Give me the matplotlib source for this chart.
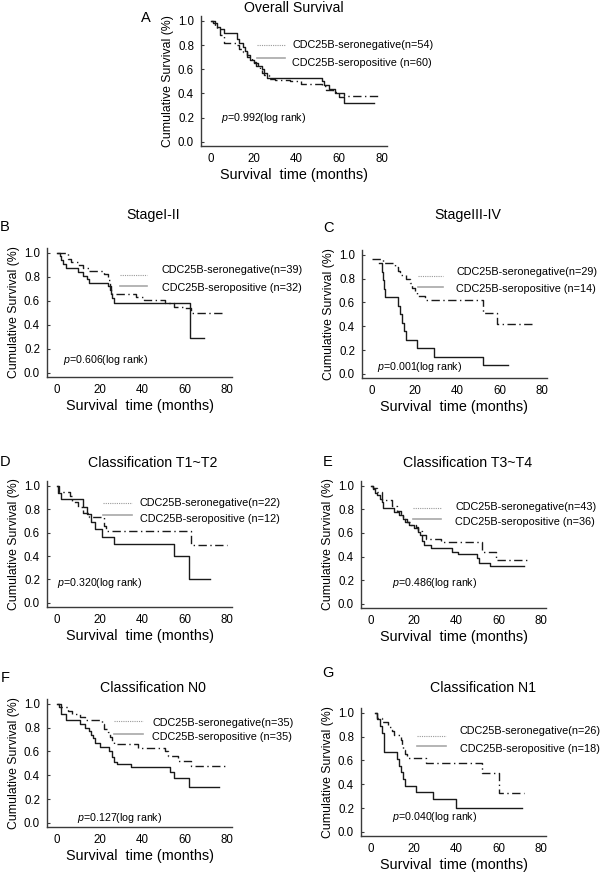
import matplotlib
matplotlib.use("Agg")
import matplotlib.pyplot as plt

plt.rcParams["font.family"] = ["Liberation Sans", "DejaVu Sans"]
plt.rcParams["mathtext.fontset"] = "custom"
plt.rcParams["mathtext.it"] = "Liberation Sans:italic"
plt.rcParams["mathtext.rm"] = "Liberation Sans"

# ---------- data -----------------------------------------------------------
panel_letters = ["A", "B", "C", "D", "E", "F", "G"]
panel_titles = ["Overall Survival", "StageI-II", "StageIII-IV",
                "Classification T1~T2", "Classification T3~T4",
                "Classification N0", "Classification N1"]
n_negative = [54, 39, 29, 22, 43, 35, 26]
n_positive = [60, 32, 14, 12, 36, 35, 18]
p_values = ["0.992", "0.606", "0.001", "0.320", "0.486", "0.127", "0.040"]

# seropositive (solid) step curves
pos_t = [
    [0, 1, 3, 4, 6, 12, 13, 15, 16, 17, 18, 20, 22, 24, 25, 26, 52, 53, 55, 58, 60, 62, 76],
    [0, 1.5, 2, 3, 4, 10, 12, 14, 15, 24, 25, 25.5, 26, 27, 62.5, 69],
    [3.5, 4.5, 5, 5.5, 6, 12, 13, 14, 15, 16, 21, 29, 52, 64],
    [0, 0.5, 2, 12, 14, 16, 18, 21, 27, 55, 62, 72],
    [0, 1, 2, 3, 4, 5, 5.5, 11, 13, 15, 16, 18, 20, 22, 23, 24, 25, 28, 38, 41, 50, 51, 56, 72],
    [0, 1, 2, 4, 11, 13, 15, 16, 17, 18, 20, 24.5, 26, 27, 28, 35, 53, 55, 62, 76],
    [2, 3, 4, 5, 6, 12, 13, 14, 15, 16, 21, 29, 40, 71],
]
pos_s = [
    [1.0, 0.98, 0.95, 0.93, 0.90, 0.85, 0.82, 0.78, 0.75, 0.72, 0.68, 0.65, 0.63, 0.60, 0.57, 0.53, 0.50, 0.47, 0.44, 0.40, 0.37, 0.32, 0.32],
    [1.0, 0.97, 0.94, 0.91, 0.87, 0.84, 0.81, 0.78, 0.75, 0.72, 0.69, 0.66, 0.62, 0.58, 0.29, 0.29],
    [0.929, 0.857, 0.786, 0.714, 0.643, 0.571, 0.50, 0.429, 0.357, 0.286, 0.214, 0.143, 0.071, 0.071],
    [1.0, 0.94, 0.89, 0.82, 0.76, 0.69, 0.63, 0.56, 0.50, 0.40, 0.20, 0.20],
    [1.0, 0.97, 0.94, 0.92, 0.89, 0.86, 0.81, 0.78, 0.75, 0.72, 0.69, 0.67, 0.64, 0.61, 0.58, 0.53, 0.50, 0.47, 0.44, 0.42, 0.39, 0.35, 0.32, 0.32],
    [1.0, 0.97, 0.91, 0.86, 0.83, 0.80, 0.77, 0.74, 0.71, 0.67, 0.64, 0.60, 0.55, 0.51, 0.49, 0.47, 0.43, 0.38, 0.30, 0.30],
    [1.0, 0.944, 0.889, 0.833, 0.667, 0.611, 0.556, 0.50, 0.444, 0.389, 0.333, 0.278, 0.20, 0.20],
]

# seronegative (dash-dot) step curves
neg_t = [
    [0, 2, 3, 4, 6, 12, 13, 15, 17, 19, 21, 23, 24, 25, 27, 30, 37, 42, 52, 54, 57, 60, 62, 79],
    [0, 5, 6.5, 10, 12, 15, 22, 24, 25, 25.5, 26, 37, 41, 51, 55, 60, 63, 79],
    [0, 5, 11, 12, 13, 16, 18, 19, 20, 21, 25, 52, 59, 76],
    [0, 1, 6, 7, 10, 12, 15, 22, 23, 63, 80],
    [0, 1, 3, 5, 10, 12, 14, 15, 17, 19, 21, 22, 24, 26, 33, 52, 59, 75],
    [0, 2, 5, 7, 11, 13, 21, 22, 24, 25, 26, 27, 38, 51, 52, 57, 63, 80],
    [2, 3, 5, 8, 10, 11, 14, 14.5, 15, 16, 17, 26, 52, 60, 72],
]
neg_s = [
    [1.0, 0.96, 0.93, 0.88, 0.82, 0.80, 0.77, 0.74, 0.70, 0.66, 0.63, 0.60, 0.57, 0.55, 0.52, 0.51, 0.50, 0.48, 0.46, 0.43, 0.41, 0.40, 0.38, 0.38],
    [1.0, 0.95, 0.92, 0.90, 0.87, 0.85, 0.82, 0.77, 0.72, 0.69, 0.66, 0.63, 0.61, 0.58, 0.55, 0.54, 0.50, 0.50],
    [0.966, 0.931, 0.897, 0.862, 0.828, 0.793, 0.759, 0.724, 0.690, 0.655, 0.62, 0.51, 0.42, 0.42],
    [1.0, 0.95, 0.91, 0.86, 0.82, 0.77, 0.73, 0.66, 0.61, 0.49, 0.49],
    [1.0, 0.98, 0.95, 0.88, 0.83, 0.79, 0.76, 0.72, 0.69, 0.67, 0.65, 0.62, 0.58, 0.55, 0.52, 0.44, 0.37, 0.37],
    [1.0, 0.97, 0.94, 0.91, 0.89, 0.86, 0.83, 0.79, 0.76, 0.72, 0.69, 0.66, 0.63, 0.60, 0.56, 0.52, 0.48, 0.48],
    [1.0, 0.96, 0.92, 0.88, 0.85, 0.81, 0.77, 0.73, 0.69, 0.65, 0.62, 0.58, 0.49, 0.33, 0.33],
]

x_ticks = [0, 20, 40, 60, 80]
y_ticks = [0.0, 0.2, 0.4, 0.6, 0.8, 1.0]

# ---------- layout (pixels) ------------------------------------------------
W, H = 600, 873
# axes box: left, top, width, height
ax_box = [(201, 16, 186, 130), (47, 248, 185, 129), (362, 250, 185, 128),
          (47, 481, 185, 126), (361, 481, 185, 127), (47, 699, 185, 128),
          (361, 708, 185, 128)]
title_xy = [(294, 8), (153, 215), (468, 215), (153, 463), (468, 463),
            (153, 688), (483, 688)]
letter_xy = [(146, 18), (5, 227), (328, 228), (5, 462), (328, 462),
             (5, 678), (328, 673)]
# legend: line x0, x1, text x, line1 y, text1 y, line2 y, text2 y (axes fraction)
legend_pos = [(0.30, 0.45, 0.49, 0.78, 0.78, 0.68, 0.64),
              (0.395, 0.54, 0.62, 0.79, 0.83, 0.705, 0.69),
              (0.30, 0.44, 0.51, 0.80, 0.83, 0.71, 0.695),
              (0.30, 0.46, 0.50, 0.825, 0.825, 0.73, 0.70),
              (0.28, 0.43, 0.51, 0.79, 0.795, 0.70, 0.68),
              (0.36, 0.52, 0.57, 0.83, 0.81, 0.73, 0.70),
              (0.30, 0.46, 0.535, 0.78, 0.82, 0.70, 0.68)]
p_pos = [(0.11, 0.215), (0.087, 0.13), (0.08, 0.086), (0.054, 0.19),
         (0.17, 0.197), (0.16, 0.07), (0.17, 0.15)]

fig = plt.figure(figsize=(W / 100, H / 100), dpi=100)

for i in range(7):
    l, t, w, h = ax_box[i]
    ax = fig.add_axes([l / W, 1 - (t + h) / H, w / W, h / H])
    ax.step(neg_t[i], neg_s[i], where="post", color="#1a1a1a", lw=1.0,
            linestyle=(0, (6, 2.5, 1, 2.5)))
    ax.step(pos_t[i], pos_s[i], where="post", color="#1a1a1a", lw=1.0)

    ax.set_xlim(-4.7, 82.3)
    ax.set_ylim(-0.035, 1.04)
    ax.set_xticks(x_ticks)
    ax.set_yticks(y_ticks)
    ax.set_yticklabels([f"{v:.1f}" for v in y_ticks])
    for side in ("top", "right"):
        ax.spines[side].set_visible(False)
    for side in ("left", "bottom"):
        ax.spines[side].set_color("#3a3a3a")
        ax.spines[side].set_linewidth(1.0)
    ax.tick_params(axis="y", direction="in", length=2, width=0.8,
                   color="#3a3a3a", labelsize=8.3, pad=5)
    ax.tick_params(axis="x", length=0, labelsize=8.3, pad=5)
    ax.set_xlabel("Survival  time (months)", fontsize=10.4, labelpad=2)
    ax.set_ylabel("Cumulative Survival (%)", fontsize=8.8, labelpad=3)

    x0, x1, xt, y1, yt1, y2, yt2 = legend_pos[i]
    ax.plot([x0, x1], [y1, y1], transform=ax.transAxes, color="#9a9a9a",
            lw=0.8, linestyle=(0, (1, 1)), clip_on=False)
    ax.plot([x0, x1], [y2, y2], transform=ax.transAxes, color="#a8a8a8",
            lw=1.2, clip_on=False)
    ax.text(xt, yt1, f"CDC25B-seronegative(n={n_negative[i]})",
            transform=ax.transAxes, fontsize=7.8, va="center", ha="left",
            clip_on=False)
    ax.text(xt, yt2, f"CDC25B-seropositive (n={n_positive[i]})",
            transform=ax.transAxes, fontsize=7.8, va="center", ha="left",
            clip_on=False)
    px, py = p_pos[i]
    ax.text(px, py, f"$p$=" + p_values[i] + "(log rank)",
            transform=ax.transAxes, fontsize=7.7, va="center", ha="left")

    tx, ty = title_xy[i]
    fig.text(tx / W, 1 - ty / H, panel_titles[i], fontsize=10.2,
             ha="center", va="center")
    lx, ly = letter_xy[i]
    fig.text(lx / W, 1 - ly / H, panel_letters[i], fontsize=10.5,
             ha="center", va="center")

fig.savefig("out.png", dpi=100)
